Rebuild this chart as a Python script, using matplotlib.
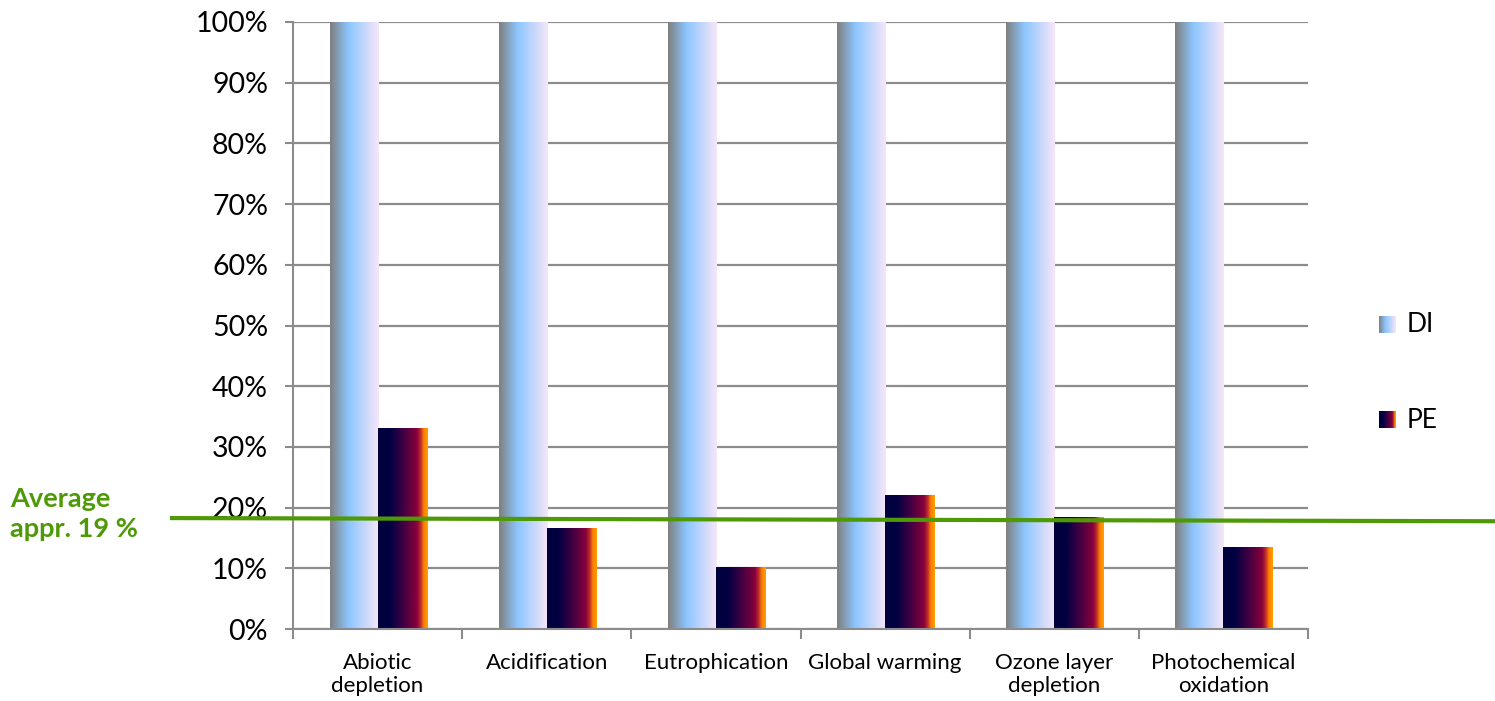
import numpy as np
import matplotlib
matplotlib.use("Agg")
import matplotlib.pyplot as plt
from matplotlib.colors import LinearSegmentedColormap

categories = ["Abiotic\ndepletion", "Acidification", "Eutrophication",
              "Global warming", "Ozone layer\ndepletion", "Photochemical\noxidation"]
di_values = [100, 100, 100, 100, 100, 100]
pe_values = [33.1, 16.6, 10.2, 22.1, 18.5, 13.5]
average_value = 18.1
yticks = list(range(0, 101, 10))
series_names = ["DI", "PE"]

plt.rcParams["font.family"] = ["Lato", "DejaVu Sans"]

di_cmap = LinearSegmentedColormap.from_list(
    "di", [(0.0, "#7f7f7f"), (0.38, "#8cc6ff"), (1.0, "#f7e6f8")])
pe_cmap = LinearSegmentedColormap.from_list(
    "pe", [(0.0, "#00003c"), (0.23, "#000042"), (0.55, "#4a0042"),
           (0.78, "#88003c"), (0.86, "#c0302a"), (0.92, "#ff8000"), (1.0, "#ffa000")])

W, H = 1495, 701
fig = plt.figure(figsize=(W / 100, H / 100), dpi=100)
ax = fig.add_axes([293 / W, 1 - 629 / H, (1308 - 293) / W, (629 - 22) / H])

grad = np.linspace(0, 1, 256).reshape(1, -1)


def gradient_bars(xs, vals, width, cmap):
    bars = ax.bar(xs, vals, width=width, align="edge", color="none",
                  edgecolor="none", zorder=2)
    for b in bars:
        x0, y0 = b.get_x(), b.get_y()
        im = ax.imshow(grad, extent=[x0, x0 + b.get_width(), y0, y0 + b.get_height()],
                       aspect="auto", cmap=cmap, interpolation="bilinear", zorder=2)
        im.set_clip_path(b)


x = np.arange(len(categories))
w_di, w_pe = 0.284, 0.295
gradient_bars(x - w_di, di_values, w_di, di_cmap)
gradient_bars(x, pe_values, w_pe, pe_cmap)

ax.set_xlim(-0.5, len(categories) - 0.5)
ax.set_ylim(0, 100)

# axes styling
for s in ["top", "right"]:
    ax.spines[s].set_visible(False)
for s in ["left", "bottom"]:
    ax.spines[s].set_color("#8c8c8c")
    ax.spines[s].set_linewidth(1.5)
ax.set_yticks(yticks)
ax.set_yticklabels([f"{v}%" for v in yticks], fontsize=20.5)
ax.yaxis.grid(True, color="#8c8c8c", linewidth=1.6, zorder=0)
ax.set_axisbelow(True)
ax.tick_params(axis="y", length=6, width=1.5, color="#8c8c8c", pad=12)

ax.set_xticks(np.arange(-0.5, len(categories)), minor=False)
ax.set_xticklabels([])
ax.set_xticks(x, minor=True)
ax.set_xticklabels(categories, minor=True, fontsize=16, linespacing=1.2)
ax.tick_params(axis="x", which="major", length=7, width=1.5, color="#8c8c8c")
ax.tick_params(axis="x", which="minor", length=0, pad=17)

# average line spanning across the figure
y_avg = ax.transData.transform((0, average_value))[1] / H
fig.add_artist(plt.Line2D([172 / W, 1.0], [y_avg + 0.0015, y_avg - 0.003],
                          color="#4e9a06", linewidth=3, zorder=5))
fig.text(10 / W, 1 - 487 / H, "Average\nappr. 19 %", color="#4e9a06",
         fontsize=19.5, fontweight="bold", va="top", ha="left", linespacing=1.3)

# legend with gradient swatches
for name, cmap, ytop in [(series_names[0], di_cmap, 316), (series_names[1], pe_cmap, 411)]:
    sw = fig.add_axes([1379 / W, 1 - (ytop + 17) / H, 17 / W, 17 / H])
    sw.imshow(grad, aspect="auto", cmap=cmap, interpolation="bilinear")
    sw.set_axis_off()
    fig.text(1407 / W, 1 - (ytop + 9) / H, name, fontsize=19, va="center", ha="left")

fig.savefig("out.png", dpi=100)
